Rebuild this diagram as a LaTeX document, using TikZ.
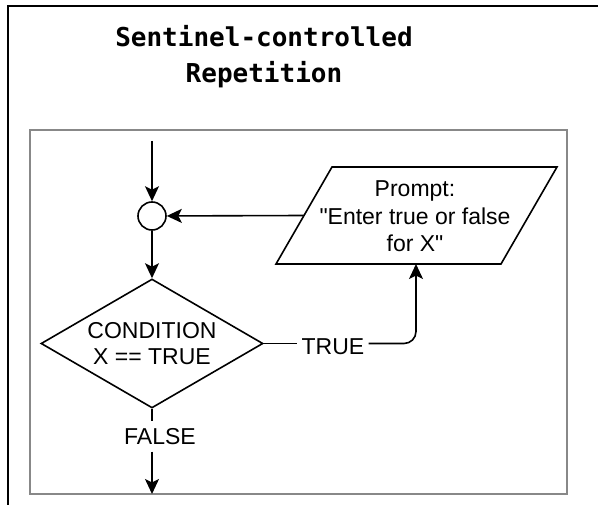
\documentclass[tikz,border=0pt]{standalone}
\usepackage{fontspec}
\setmainfont{Liberation Sans}
\newfontfamily\titlefont{DejaVu Sans Mono}
\usetikzlibrary{shapes.geometric,arrows.meta}
\tikzset{
  conn/.style={line width=1.6pt, draw=black},
  arr/.style={conn, -{Stealth[length=15pt,width=14pt,inset=3.5pt]}},
  lbl/.style={font=\fontsize{23}{26}\selectfont, inner sep=0pt},
  decision/.style={shape=diamond, draw=black, line width=1.6pt, minimum width=222pt, minimum height=129pt, inner sep=0pt, aspect=1.72, align=center, font=\fontsize{23}{26}\selectfont},
  junction/.style={shape=circle, draw=black, line width=1.6pt, minimum size=28pt, inner sep=0pt},
}
\begin{document}
\begin{tikzpicture}[x=1pt,y=-1pt]
\useasboundingbox (0,0) rectangle (598,505);
% outer frame
\draw[line width=1.8pt, black] (600,6) -- (8,6) -- (8,510);
% title
\node[font=\titlefont\bfseries\fontsize{26}{36}\selectfont, align=center, inner sep=0pt] (title) at (264,57) {Sentinel-controlled\\Repetition};
% inner frame
\draw[line width=2.4pt, draw={rgb,255:red,136;green,136;blue,136}] (30,130) rectangle (567,494);
% nodes
\coordinate (start) at (152,141);
\node[junction] (j) at (152,216) {};
\node[decision] (cond) at (152,343.5) {CONDITION\\X == TRUE};
% parallelogram
\coordinate (p1) at (332,167);
\coordinate (p2) at (557,167);
\coordinate (p3) at (501,264);
\coordinate (p4) at (276,264);
\draw[line width=1.6pt, line join=miter] (p1) -- (p2) -- (p3) -- (p4) -- cycle;
\coordinate (pl) at (304,215.5);
\coordinate (pb) at (416,264);
\node[lbl, align=center, font=\fontsize{23}{27.5}\selectfont] (prompt) at (415,216.5) {Prompt:\\\textquotedbl Enter true or false\\for X\textquotedbl};
% labels
\node[lbl, inner xsep=4pt, text height=16pt, text depth=0pt] (t) at (333,346.5) {TRUE};
\node[lbl, inner ysep=7pt, text height=16pt, text depth=0pt] (f) at (160,436.5) {FALSE};
\coordinate (end) at (152,494);
% connectors
\draw[arr] (start) -- (j);
\draw[arr] (j) -- (cond.north);
\draw[arr] (pl) -- (j);
\draw[conn] (cond.east) -- (cond.east -| t.west);
\draw[arr, rounded corners=12pt] (t.east |- cond.east) -- (pb |- cond.east) -- (pb);
\draw[conn] (cond.south) -- (cond.south |- f.north);
\draw[arr] (cond.south |- f.south) -- (end);
\end{tikzpicture}
\end{document}
